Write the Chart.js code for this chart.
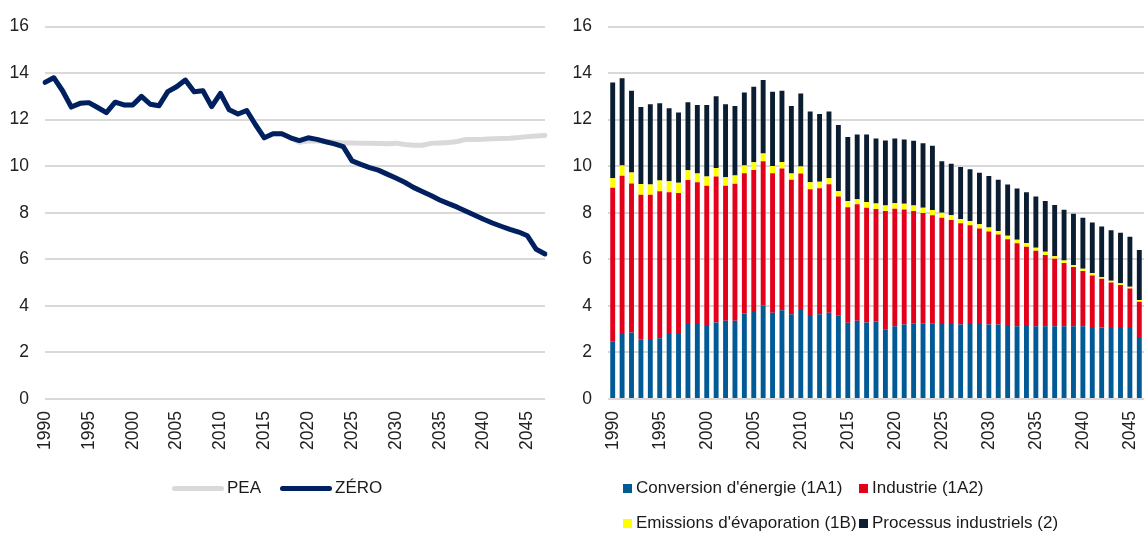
<!DOCTYPE html>
<html>
<head>
<meta charset="utf-8">
<script src="https://cdn.jsdelivr.net/npm/chart.js@4.4.1/dist/chart.umd.min.js"></script>
<style>
  body { margin: 0; background: #fff; font-family: "Liberation Sans", Arial, sans-serif; }
  #wrap { position: relative; width: 1146px; height: 533px; overflow: hidden; }
  canvas { position: absolute; top: 0; }
  .item { position: absolute; display: flex; align-items: center; height: 20px; font-size: 17px; color: #1a1a1a; white-space: nowrap; }
  .swatch { display: inline-block; margin-right: 4px; }
</style>
</head>
<body>
<div id="wrap">
  <canvas id="lineChart" width="560" height="533" style="left:0"></canvas>
  <canvas id="barChart" width="586" height="533" style="left:560px"></canvas>
</div>
<script>
// left chart: emissions pathways
const lineYears = [1990, 1991, 1992, 1993, 1994, 1995, 1996, 1997, 1998, 1999,
  2000, 2001, 2002, 2003, 2004, 2005, 2006, 2007, 2008, 2009,
  2010, 2011, 2012, 2013, 2014, 2015, 2016, 2017, 2018, 2019,
  2020, 2021, 2022, 2023, 2024, 2025, 2026, 2027, 2028, 2029,
  2030, 2031, 2032, 2033, 2034, 2035, 2036, 2037, 2038, 2039,
  2040, 2041, 2042, 2043, 2044, 2045, 2046, 2047];

const zeroValues = [13.6, 13.8, 13.24, 12.54, 12.7, 12.73, 12.52, 12.3, 12.75, 12.63,
  12.63, 13.0, 12.66, 12.6, 13.2, 13.41, 13.7, 13.2, 13.24, 12.56,
  13.13, 12.42, 12.24, 12.39, 11.78, 11.22, 11.39, 11.39, 11.22, 11.1,
  11.22, 11.15, 11.05, 10.96, 10.84, 10.23, 10.08, 9.94, 9.83, 9.66,
  9.49, 9.31, 9.09, 8.91, 8.74, 8.55, 8.39, 8.24, 8.06, 7.89,
  7.72, 7.56, 7.42, 7.29, 7.17, 7.01, 6.43, 6.23];

const peaValues = [13.6, 13.8, 13.24, 12.54, 12.7, 12.73, 12.52, 12.3, 12.75, 12.63,
  12.63, 13.0, 12.66, 12.6, 13.2, 13.41, 13.7, 13.2, 13.24, 12.56,
  13.13, 12.42, 12.24, 12.39, 11.78, 11.22, 11.39, 11.39, 11.22, 11.03,
  11.08, 11.08, 11.07, 11.03, 11.0, 11.0, 10.99, 10.98, 10.97, 10.96,
  10.99, 10.93, 10.9, 10.9, 10.98, 11.0, 11.02, 11.06, 11.15, 11.15,
  11.16, 11.18, 11.19, 11.2, 11.23, 11.27, 11.3, 11.32];

// right chart: emissions by source
const barYears = [1990, 1991, 1992, 1993, 1994, 1995, 1996, 1997, 1998, 1999,
  2000, 2001, 2002, 2003, 2004, 2005, 2006, 2007, 2008, 2009,
  2010, 2011, 2012, 2013, 2014, 2015, 2016, 2017, 2018, 2019,
  2020, 2021, 2022, 2023, 2024, 2025, 2026, 2027, 2028, 2029,
  2030, 2031, 2032, 2033, 2034, 2035, 2036, 2037, 2038, 2039,
  2040, 2041, 2042, 2043, 2044, 2045, 2046];

const energyConversion = [2.48, 2.79, 2.86, 2.54, 2.58, 2.61, 2.83, 2.83, 3.22, 3.22,
  3.14, 3.29, 3.36, 3.36, 3.67, 3.78, 4.02, 3.71, 3.81, 3.64,
  3.82, 3.57, 3.64, 3.71, 3.58, 3.27, 3.36, 3.29, 3.33, 2.97,
  3.13, 3.2, 3.23, 3.23, 3.23, 3.22, 3.22, 3.2, 3.22, 3.22,
  3.2, 3.2, 3.14, 3.13, 3.14, 3.13, 3.13, 3.13, 3.12, 3.12,
  3.12, 3.09, 3.07, 3.05, 3.05, 3.05, 2.62];

const industry = [6.59, 6.8, 6.4, 6.23, 6.19, 6.31, 6.05, 6.02, 6.19, 6.09,
  6.02, 6.27, 5.8, 5.89, 6.03, 6.06, 6.19, 5.99, 6.09, 5.78,
  5.87, 5.44, 5.41, 5.51, 5.12, 4.97, 5.0, 4.93, 4.83, 5.1,
  5.04, 4.94, 4.84, 4.76, 4.66, 4.56, 4.47, 4.35, 4.24, 4.1,
  4.0, 3.87, 3.72, 3.56, 3.4, 3.24, 3.06, 2.89, 2.72, 2.55,
  2.38, 2.22, 2.09, 1.95, 1.85, 1.7, 1.56];

const evaporation = [0.41, 0.44, 0.47, 0.47, 0.44, 0.46, 0.47, 0.44, 0.42, 0.38,
  0.4, 0.36, 0.37, 0.35, 0.33, 0.33, 0.33, 0.31, 0.28, 0.27,
  0.3, 0.3, 0.28, 0.26, 0.22, 0.26, 0.22, 0.24, 0.24, 0.24,
  0.24, 0.25, 0.24, 0.23, 0.23, 0.22, 0.2, 0.18, 0.19, 0.19,
  0.17, 0.15, 0.15, 0.15, 0.16, 0.13, 0.13, 0.11, 0.11, 0.09,
  0.09, 0.1, 0.08, 0.08, 0.07, 0.07, 0.07];

const processes = [4.12, 3.75, 3.51, 3.3, 3.45, 3.32, 3.14, 3.02, 2.92, 2.94,
  3.07, 3.08, 3.13, 2.99, 3.13, 3.24, 3.16, 3.19, 3.06, 2.89,
  3.13, 3.04, 2.91, 2.87, 2.85, 2.75, 2.78, 2.9, 2.79, 2.79,
  2.78, 2.76, 2.78, 2.77, 2.76, 2.21, 2.22, 2.23, 2.22, 2.21,
  2.21, 2.2, 2.2, 2.2, 2.18, 2.2, 2.18, 2.2, 2.18, 2.2,
  2.19, 2.17, 2.17, 2.17, 2.17, 2.15, 2.15];

const yTicks = [0, 2, 4, 6, 8, 10, 12, 14, 16];

const tickFont = { family: '"Liberation Sans", Arial, sans-serif', size: 17.5 };
const tickColor = '#222';
const gridColor = '#d9d9d9';

function yAxis(width) {
  return {
    min: 0, max: 16,
    afterBuildTicks: axis => { axis.ticks = yTicks.map(v => ({ value: v })); },
    ticks: { font: tickFont, color: tickColor, padding: 16 },
    grid: { color: gridColor, lineWidth: 2, drawTicks: false },
    border: { display: false },
    afterFit: axis => { axis.width = width; }
  };
}

function xAxis(years, extra) {
  return Object.assign({
    grid: { display: false },
    border: { display: false },
    ticks: {
      autoSkip: false, minRotation: 90, maxRotation: 90, padding: 4,
      font: tickFont, color: tickColor,
      callback: (v, i) => (years[i] % 5 === 0 ? String(years[i]) : null)
    },
    afterFit: axis => {
      axis.height = 134;
      axis.paddingLeft = 0;
      axis.paddingRight = 0;
    }
  }, extra || {});
}

const lineChart = new Chart(document.getElementById('lineChart'), {
  type: 'line',
  data: {
    labels: lineYears,
    datasets: [
      { label: 'PEA', data: peaValues, borderColor: '#d9d9d9', backgroundColor: '#d9d9d9',
        borderWidth: 5, pointRadius: 0, order: 2, borderCapStyle: 'round', borderJoinStyle: 'round' },
      { label: 'ZÉRO', data: zeroValues, borderColor: '#002060', backgroundColor: '#002060',
        borderWidth: 5, pointRadius: 0, order: 1, borderCapStyle: 'round', borderJoinStyle: 'round' }
    ]
  },
  options: {
    responsive: false,
    animation: false,
    layout: { padding: { top: 22, right: 15, bottom: 0, left: 0 } },
    plugins: { legend: { display: false }, tooltip: { enabled: false } },
    scales: { x: xAxis(lineYears, { offset: false }), y: yAxis(45) }
  }
});

const barChart = new Chart(document.getElementById('barChart'), {
  type: 'bar',
  data: {
    labels: barYears,
    datasets: [
      { label: "Conversion d'énergie (1A1)", data: energyConversion, backgroundColor: '#005a96' },
      { label: 'Industrie (1A2)', data: industry, backgroundColor: '#e3001b' },
      { label: "Emissions d'évaporation (1B)", data: evaporation, backgroundColor: '#ffff00' },
      { label: 'Processus industriels (2)', data: processes, backgroundColor: '#0b1d30' }
    ]
  },
  options: {
    responsive: false,
    animation: false,
    datasets: { bar: { categoryPercentage: 1, barPercentage: 0.52 } },
    layout: { padding: { top: 22, right: 2, bottom: 0, left: 0 } },
    plugins: { legend: { display: false }, tooltip: { enabled: false } },
    scales: {
      x: xAxis(barYears, { stacked: true }),
      y: Object.assign(yAxis(48), { stacked: true })
    }
  }
});

// legends, built from the datasets
const wrap = document.getElementById('wrap');
function addItem(x, yMid, swatchCss, text) {
  const el = document.createElement('div');
  el.className = 'item';
  el.style.left = x + 'px';
  el.style.top = (yMid - 10) + 'px';
  const sw = document.createElement('span');
  sw.className = 'swatch';
  sw.style.cssText = swatchCss;
  el.appendChild(sw);
  el.appendChild(document.createTextNode(text));
  wrap.appendChild(el);
}

const lineLegendX = [172, 280];
lineChart.data.datasets.forEach((ds, i) => {
  addItem(lineLegendX[i], 488,
    'width:52px;height:5px;border-radius:3px;margin-right:3px;background:' + ds.borderColor, ds.label);
});

const barLegendX = [623, 859];
const barLegendY = [488, 523];
barChart.data.datasets.forEach((ds, i) => {
  addItem(barLegendX[i % 2], barLegendY[Math.floor(i / 2)],
    'width:9px;height:9px;background:' + ds.backgroundColor, ds.label);
});
</script>
</body>
</html>
